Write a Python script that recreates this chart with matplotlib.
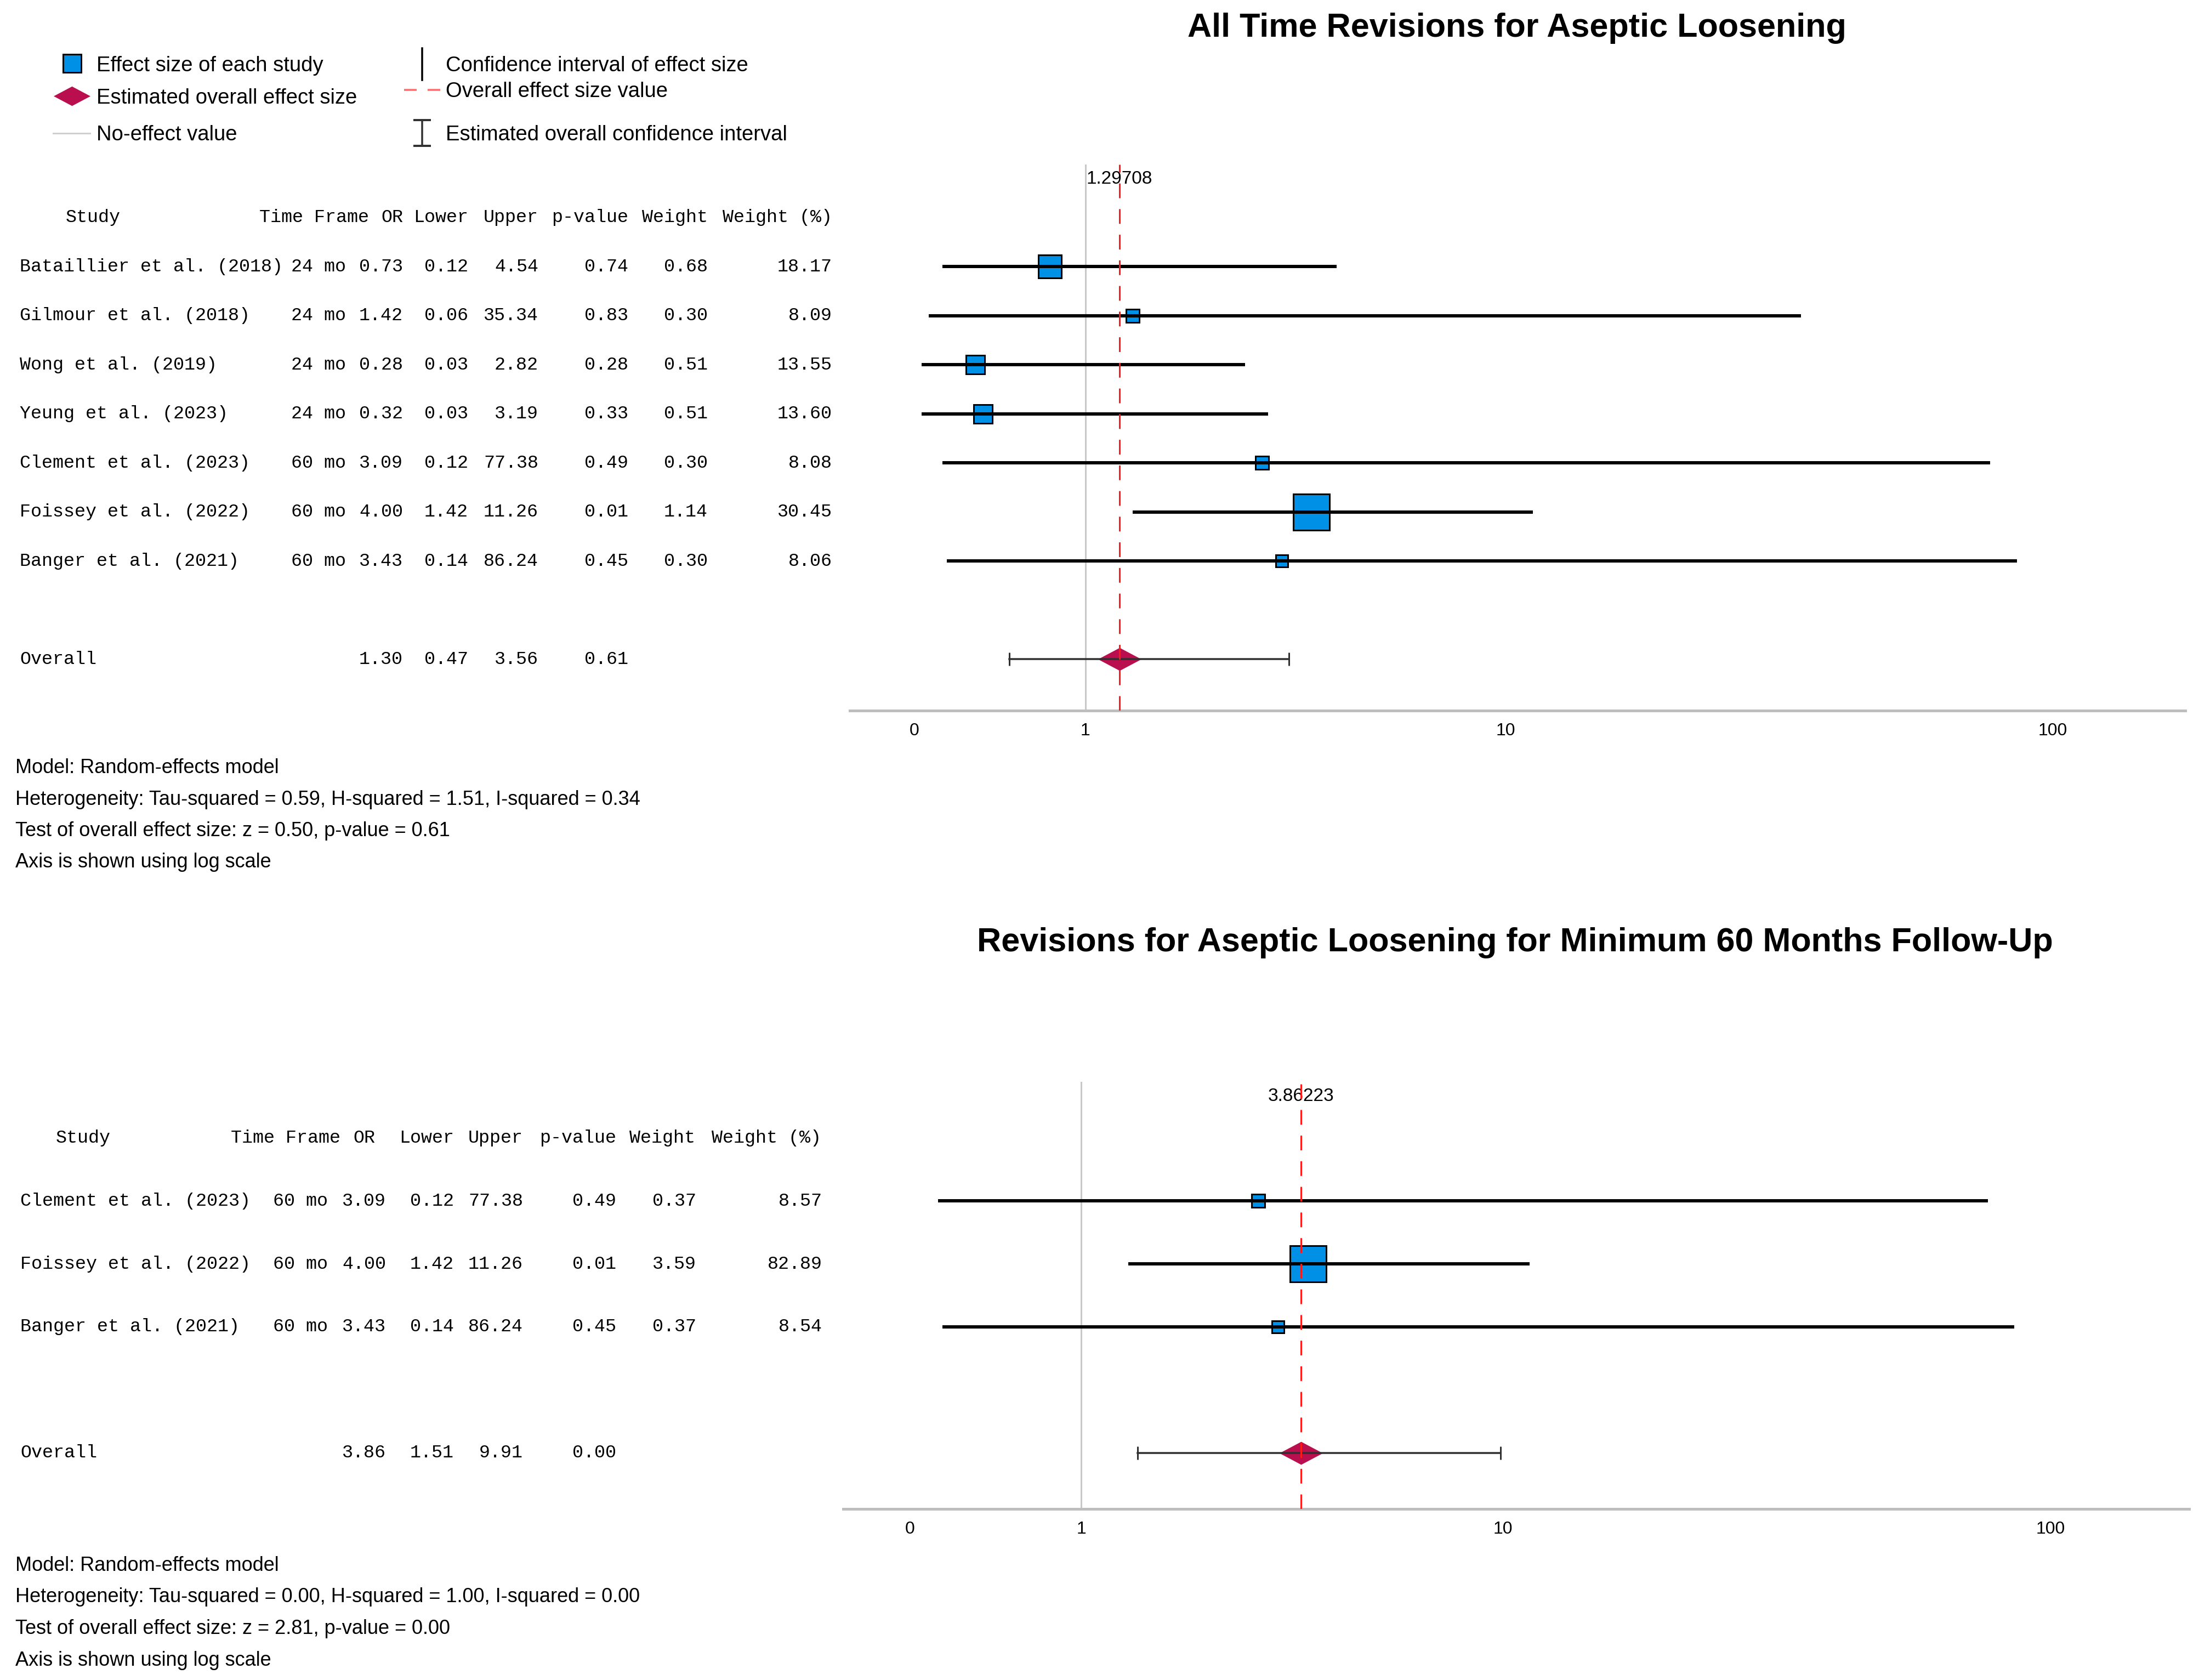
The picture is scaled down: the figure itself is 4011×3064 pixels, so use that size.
import matplotlib
matplotlib.use("Agg")
import matplotlib.pyplot as plt
import matplotlib.transforms as mtransforms
from matplotlib.path import Path
from matplotlib.ticker import FixedLocator, NullLocator
import numpy as np

plt.rcParams['font.family'] = ['Liberation Sans', 'DejaVu Sans']

# ---- data: all-time revisions ----
studies1 = ["Bataillier et al. (2018)", "Gilmour et al. (2018)", "Wong et al. (2019)",
            "Yeung et al. (2023)", "Clement et al. (2023)", "Foissey et al. (2022)",
            "Banger et al. (2021)"]
frame1 = ["24 mo", "24 mo", "24 mo", "24 mo", "60 mo", "60 mo", "60 mo"]
or1 = [0.73, 1.42, 0.28, 0.32, 3.09, 4.00, 3.43]
lower1 = [0.12, 0.06, 0.03, 0.03, 0.12, 1.42, 0.14]
upper1 = [4.54, 35.34, 2.82, 3.19, 77.38, 11.26, 86.24]
pval1 = [0.74, 0.83, 0.28, 0.33, 0.49, 0.01, 0.45]
weight1 = [0.68, 0.30, 0.51, 0.51, 0.30, 1.14, 0.30]
weightpct1 = [18.17, 8.09, 13.55, 13.60, 8.08, 30.45, 8.06]
overall1 = [1.29708, 0.47, 3.56, 0.61]   # OR, lower, upper, p
notes1 = ["Model: Random-effects model",
          "Heterogeneity: Tau-squared = 0.59, H-squared = 1.51, I-squared = 0.34",
          "Test of overall effect size: z = 0.50, p-value = 0.61",
          "Axis is shown using log scale"]

# ---- data: minimum 60 months ----
studies2 = ["Clement et al. (2023)", "Foissey et al. (2022)", "Banger et al. (2021)"]
frame2 = ["60 mo", "60 mo", "60 mo"]
or2 = [3.09, 4.00, 3.43]
lower2 = [0.12, 1.42, 0.14]
upper2 = [77.38, 11.26, 86.24]
pval2 = [0.49, 0.01, 0.45]
weight2 = [0.37, 3.59, 0.37]
weightpct2 = [8.57, 82.89, 8.54]
overall2 = [3.86223, 1.51, 9.91, 0.00]
notes2 = ["Model: Random-effects model",
          "Heterogeneity: Tau-squared = 0.00, H-squared = 1.00, I-squared = 0.00",
          "Test of overall effect size: z = 2.81, p-value = 0.00",
          "Axis is shown using log scale"]

ticks = [0, 1, 10, 100]
tick_labels = ["0", "1", "10", "100"]
headers = ["Time Frame", "OR", "Lower", "Upper", "p-value", "Weight", "Weight (%)"]

BLUE = '#0091E6'
CRIMSON = '#BA0F4F'
W, H = 4011, 3064
PT = 0.72  # points per pixel at dpi 100

fig = plt.figure(figsize=(W / 100, H / 100), dpi=100)

# overlay in pixel coordinates for titles, legend and notes
lax = fig.add_axes([0, 0, 1, 1])
lax.set_xlim(0, W)
lax.set_ylim(H, 0)
lax.axis('off')

diamond = Path([(-1, 0), (0, 0.53), (1, 0), (0, -0.53), (-1, 0)],
               [Path.MOVETO, Path.LINETO, Path.LINETO, Path.LINETO, Path.CLOSEPOLY])


def fwd(x):
    return np.log10(np.maximum(1 + np.asarray(x, dtype=float), 1e-9))


def inv(y):
    return 10 ** np.asarray(y, dtype=float) - 1


def draw_panel(box, xl, ylim, names, frames, ors, los, his, ps, ws, wps, overall,
               cols, hcols, title, title_xy, notes, note_y):
    l, r, t, b = box
    ax = fig.add_axes([l / W, 1 - b / H, (r - l) / W, (b - t) / H])
    ax.set_xscale('function', functions=(fwd, inv))
    ax.set_xlim(inv(xl[0]), inv(xl[1]))
    ax.set_ylim(*ylim)
    for s in ['top', 'left', 'right']:
        ax.spines[s].set_visible(False)
    ax.spines['bottom'].set_color('#BEBEBE')
    ax.spines['bottom'].set_linewidth(5 * PT)
    ax.xaxis.set_major_locator(FixedLocator(ticks))
    ax.xaxis.set_minor_locator(NullLocator())
    ax.set_xticklabels(tick_labels)
    ax.tick_params(axis='x', length=0, pad=16, labelsize=23)
    ax.set_yticks([])
    ax.patch.set_visible(False)

    ov, olo, ohi, op = overall
    ax.axvline(1, color='#C8C8C8', lw=3 * PT, zorder=1)
    ax.axvline(ov, color='#FF1A1A', lw=2.2, dashes=(8.8, 6.5), zorder=6)
    ax.annotate(f"{ov:.5f}", xy=(ov, 1), xycoords=('data', 'axes fraction'),
                xytext=(0, -19), textcoords='offset points',
                ha='center', va='center', fontsize=24)

    wmin, wmax = min(wps), max(wps)
    for i in range(len(names)):
        side = 26 + (wps[i] - wmin) / (wmax - wmin) * 43
        ax.plot(ors[i], i, marker='s', ms=(side - 3) * PT, mfc=BLUE, mec='black',
                mew=3 * PT, zorder=3)
        ax.plot([los[i], his[i]], [i, i], color='black', lw=6 * PT,
                solid_capstyle='butt', zorder=4)

    yo = len(names) + 1
    ax.plot(ov, yo, marker=diamond, ms=79 * PT, color=CRIMSON, mec='none', zorder=3)
    ax.plot([olo, ohi], [yo, yo], color='#303030', lw=3.5 * PT, zorder=4)
    ax.plot([olo, ohi], [yo, yo], ls='none', marker='|', ms=24 * PT, mew=3 * PT,
            color='#303030', zorder=4)

    # table text
    tr = mtransforms.blended_transform_factory(lax.transData, ax.transData)
    kw = dict(transform=tr, family='Liberation Mono', fontsize=24, va='center')
    ax.text(hcols[0], -1, "Study", ha='center', **kw)
    for h, x in zip(headers, hcols[1:]):
        ax.text(x, -1, h, ha='right', **kw)
    for i in range(len(names)):
        ax.text(cols[0], i, names[i], ha='left', **kw)
        vals = [frames[i], f"{ors[i]:.2f}", f"{los[i]:.2f}", f"{his[i]:.2f}",
                f"{ps[i]:.2f}", f"{ws[i]:.2f}", f"{wps[i]:.2f}"]
        for v, x in zip(vals, cols[1:]):
            ax.text(x, i, v, ha='right', **kw)
    ax.text(cols[0], yo, "Overall", ha='left', **kw)
    for v, x in zip([ov, olo, ohi, op], cols[2:6]):
        ax.text(x, yo, f"{v:.2f}", ha='right', **kw)

    lax.text(title_xy[0], title_xy[1], title, ha='center', va='center',
             fontsize=44, fontweight='bold')
    for k, line in enumerate(notes):
        lax.text(28, note_y + k * 57.5, line, ha='left', va='baseline', fontsize=26)
    return ax


draw_panel((1550, 3986, 300, 1296), (-0.1139, 2.2375), (9.05, -2.08),
           studies1, frame1, or1, lower1, upper1, pval1, weight1, weightpct1, overall1,
           [36, 631, 735, 854, 982, 1146, 1291, 1518],
           [170, 673, 735, 854, 982, 1146, 1291, 1518],
           "All Time Revisions for Aseptic Loosening", (2767, 52), notes1, 1410)

draw_panel((1538, 3993, 1973, 2752), (-0.1175, 2.2476), (4.887, -1.887),
           studies2, frame2, or2, lower2, upper2, pval2, weight2, weightpct2, overall2,
           [37, 598, 704, 828, 954, 1124, 1270, 1500],
           [152, 621, 684, 828, 954, 1124, 1268, 1498],
           "Revisions for Aseptic Loosening for Minimum 60 Months Follow-Up", (2763, 1719),
           notes2, 2865)

# ---- legend ----
lfs = 27.5
lw_leg = 3.5 * PT
lax.plot(131, 115, marker='s', ms=33 * PT, mfc=BLUE, mec='black', mew=3 * PT)
lax.text(176, 120, "Effect size of each study", va='center', fontsize=lfs)
lax.plot(131, 175, marker=diamond, ms=67 * PT, color=CRIMSON, mec='none')
lax.text(176, 179, "Estimated overall effect size", va='center', fontsize=lfs)
lax.plot([97, 164], [243, 243], color='#D0D0D0', lw=3 * PT)
lax.text(176, 246, "No-effect value", va='center', fontsize=lfs)

lax.plot([770, 770], [88, 146], color='black', lw=lw_leg)
lax.text(813, 120, "Confidence interval of effect size", va='center', fontsize=lfs)
lax.plot([737, 803], [164, 164], color='#FF6B6B', lw=lw_leg,
         dashes=(23 * PT / lw_leg, 20 * PT / lw_leg))
lax.text(813, 167, "Overall effect size value", va='center', fontsize=lfs)
lax.plot([770, 770], [219, 266], color='#333333', lw=lw_leg)
lax.plot([756, 784], [219, 219], color='#333333', lw=4 * PT)
lax.plot([756, 784], [266, 266], color='#333333', lw=4 * PT)
lax.text(813, 246, "Estimated overall confidence interval", va='center', fontsize=lfs)

fig.savefig("out.png", dpi=100, facecolor='white')
